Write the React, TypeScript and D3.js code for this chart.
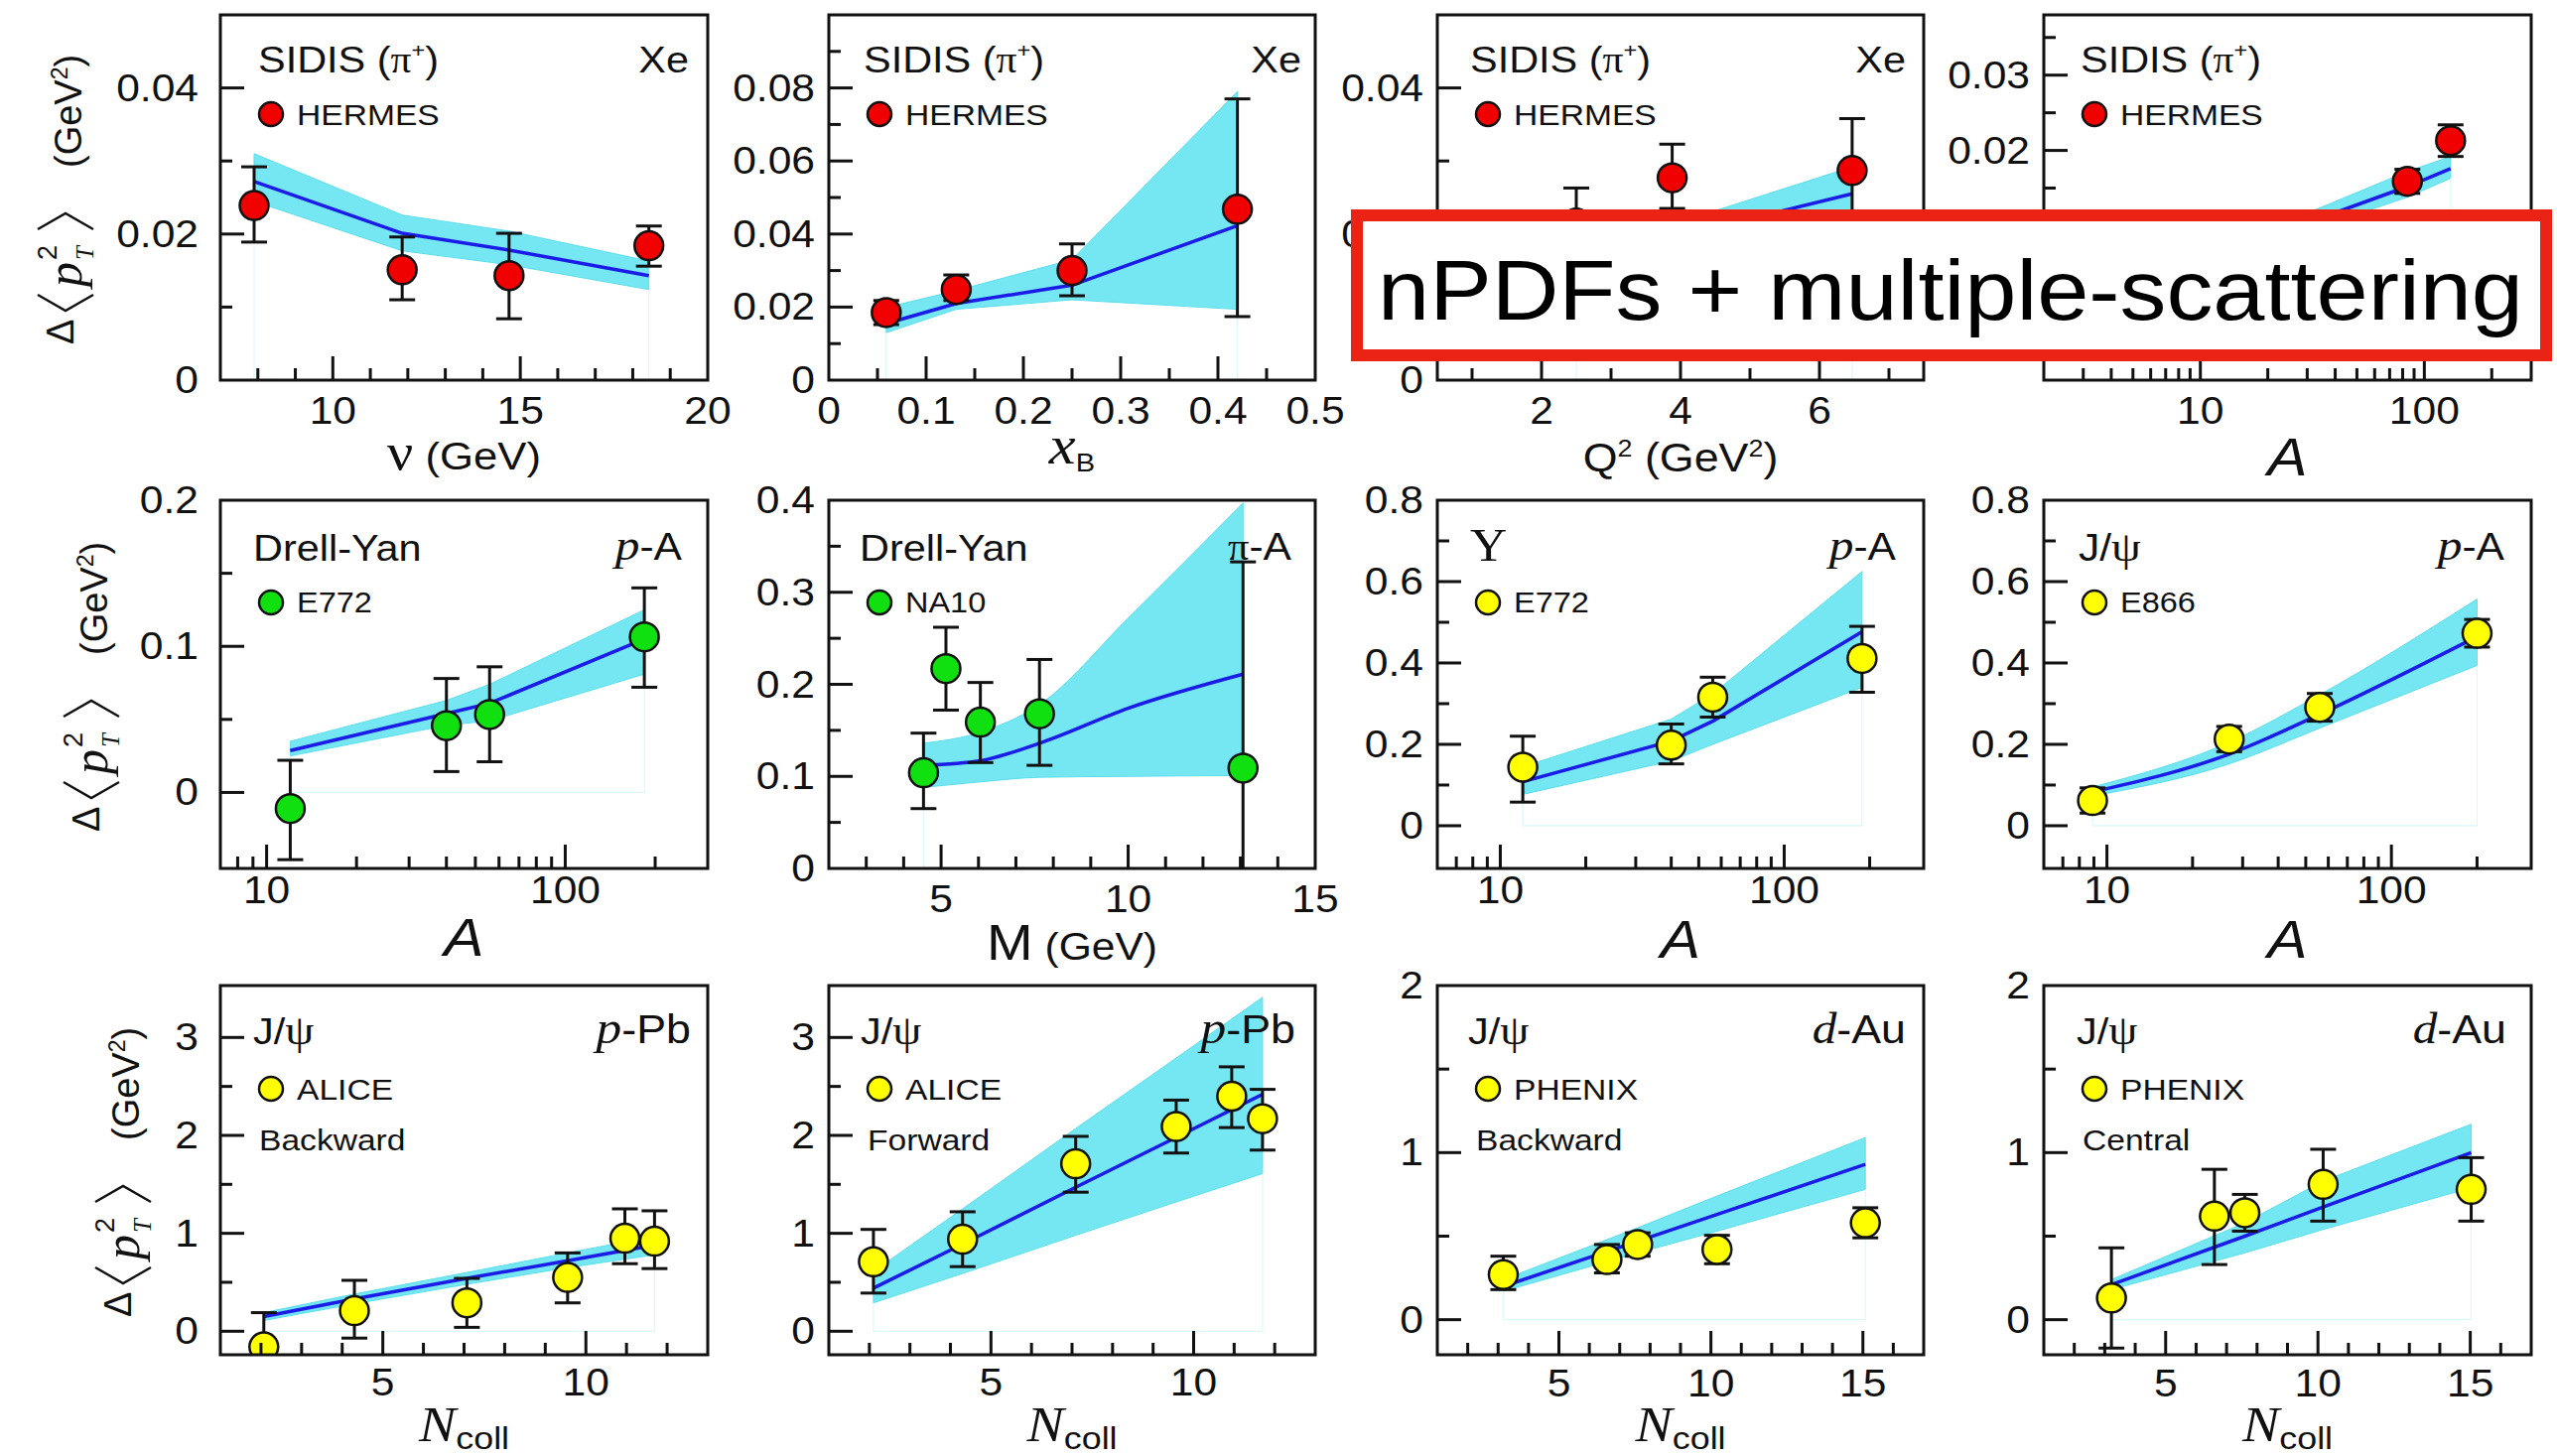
import React from "react";
import * as d3 from "d3";

type Pt = { x: number; y: number; lo: number; hi: number };

// ---------- SIDIS pi+ on Xe (HERMES) ----------
const sidisNuData: Pt[] = [
  { x: 7.9, y: 0.0239, lo: 0.0189, hi: 0.0292 },
  { x: 11.85, y: 0.0151, lo: 0.011, hi: 0.0196 },
  { x: 14.7, y: 0.0143, lo: 0.0084, hi: 0.0201 },
  { x: 18.43, y: 0.0184, lo: 0.0156, hi: 0.0211 },
];
const sidisNuTheory: Pt[] = [
  { x: 7.9, y: 0.0272, lo: 0.0245, hi: 0.031 },
  { x: 11.85, y: 0.0201, lo: 0.0177, hi: 0.0226 },
  { x: 14.7, y: 0.0178, lo: 0.0158, hi: 0.0204 },
  { x: 18.43, y: 0.0143, lo: 0.0124, hi: 0.0163 },
];

const sidisXbData: Pt[] = [
  { x: 0.059, y: 0.0185, lo: 0.0152, hi: 0.0218 },
  { x: 0.131, y: 0.0248, lo: 0.0218, hi: 0.0288 },
  { x: 0.25, y: 0.03, lo: 0.0231, hi: 0.0373 },
  { x: 0.42, y: 0.0468, lo: 0.0174, hi: 0.077 },
];
const sidisXbTheory: Pt[] = [
  { x: 0.059, y: 0.0155, lo: 0.013, hi: 0.0199 },
  { x: 0.131, y: 0.021, lo: 0.0194, hi: 0.0245 },
  { x: 0.25, y: 0.026, lo: 0.022, hi: 0.033 },
  { x: 0.42, y: 0.0423, lo: 0.0194, hi: 0.079 },
];

const sidisQ2Data: Pt[] = [
  { x: 2.5, y: 0.0215, lo: 0.0165, hi: 0.0263 },
  { x: 3.88, y: 0.0277, lo: 0.0235, hi: 0.0323 },
  { x: 6.47, y: 0.0287, lo: 0.021, hi: 0.0358 },
];
const sidisQ2Theory: Pt[] = [
  { x: 2.5, y: 0.0175, lo: 0.0158, hi: 0.0192 },
  { x: 3.88, y: 0.0195, lo: 0.0175, hi: 0.0213 },
  { x: 6.47, y: 0.0255, lo: 0.0215, hi: 0.0292 },
];

const sidisAData: Pt[] = [
  { x: 4, y: 0.004, lo: 0.0025, hi: 0.0055 },
  { x: 20, y: 0.0075, lo: 0.006, hi: 0.009 },
  { x: 84, y: 0.0159, lo: 0.0143, hi: 0.0175 },
  { x: 131, y: 0.0213, lo: 0.0192, hi: 0.0234 },
];
const sidisATheory: Pt[] = [
  { x: 4, y: 0.0035, lo: 0.003, hi: 0.004 },
  { x: 20, y: 0.0085, lo: 0.0075, hi: 0.0095 },
  { x: 84, y: 0.0152, lo: 0.0138, hi: 0.0172 },
  { x: 131, y: 0.0176, lo: 0.0163, hi: 0.0192 },
];

// ---------- Drell-Yan ----------
const e772DyData: Pt[] = [
  { x: 12, y: -0.011, lo: -0.046, hi: 0.022 },
  { x: 40, y: 0.0457, lo: 0.0143, hi: 0.078 },
  { x: 55.8, y: 0.0533, lo: 0.021, hi: 0.086 },
  { x: 184, y: 0.1065, lo: 0.072, hi: 0.14 },
];
const e772DyTheory: Pt[] = [
  { x: 12, y: 0.0287, lo: 0.025, hi: 0.035 },
  { x: 40, y: 0.054, lo: 0.046, hi: 0.063 },
  { x: 55.8, y: 0.061, lo: 0.049, hi: 0.074 },
  { x: 184, y: 0.105, lo: 0.081, hi: 0.125 },
];

const na10Data: Pt[] = [
  { x: 4.53, y: 0.104, lo: 0.065, hi: 0.147 },
  { x: 5.13, y: 0.217, lo: 0.172, hi: 0.262 },
  { x: 6.05, y: 0.159, lo: 0.115, hi: 0.202 },
  { x: 7.63, y: 0.168, lo: 0.112, hi: 0.227 },
  { x: 13.07, y: 0.109, lo: -0.1, hi: 0.333 },
];
const na10Theory: Pt[] = [
  { x: 4.53, y: 0.112, lo: 0.088, hi: 0.136 },
  { x: 6.05, y: 0.117, lo: 0.094, hi: 0.148 },
  { x: 7.63, y: 0.136, lo: 0.099, hi: 0.178 },
  { x: 10, y: 0.174, lo: 0.1, hi: 0.272 },
  { x: 13.07, y: 0.211, lo: 0.101, hi: 0.397 },
];

// ---------- Quarkonia in p-A ----------
const e772UpsData: Pt[] = [
  { x: 12, y: 0.144, lo: 0.058, hi: 0.22 },
  { x: 40, y: 0.198, lo: 0.152, hi: 0.25 },
  { x: 56, y: 0.316, lo: 0.267, hi: 0.365 },
  { x: 188, y: 0.411, lo: 0.328, hi: 0.49 },
];
const e772UpsTheory: Pt[] = [
  { x: 12, y: 0.108, lo: 0.077, hi: 0.145 },
  { x: 40, y: 0.208, lo: 0.159, hi: 0.262 },
  { x: 56, y: 0.257, lo: 0.2, hi: 0.324 },
  { x: 188, y: 0.477, lo: 0.34, hi: 0.625 },
];

const e866Data: Pt[] = [
  { x: 8.9, y: 0.062, lo: 0.031, hi: 0.093 },
  { x: 26.9, y: 0.213, lo: 0.182, hi: 0.244 },
  { x: 56, y: 0.291, lo: 0.257, hi: 0.325 },
  { x: 200, y: 0.473, lo: 0.439, hi: 0.507 },
];
const e866Theory: Pt[] = [
  { x: 8.9, y: 0.083, lo: 0.073, hi: 0.095 },
  { x: 26.9, y: 0.176, lo: 0.152, hi: 0.205 },
  { x: 56, y: 0.274, lo: 0.24, hi: 0.322 },
  { x: 200, y: 0.465, lo: 0.394, hi: 0.557 },
];

// ---------- J/psi versus N_coll ----------
const aliceBwdData: Pt[] = [
  { x: 2.07, y: -0.16, lo: -0.5, hi: 0.19 },
  { x: 4.3, y: 0.21, lo: -0.07, hi: 0.52 },
  { x: 7.07, y: 0.29, lo: 0.04, hi: 0.54 },
  { x: 9.55, y: 0.55, lo: 0.29, hi: 0.8 },
  { x: 10.96, y: 0.95, lo: 0.69, hi: 1.25 },
  { x: 11.69, y: 0.92, lo: 0.64, hi: 1.23 },
];
const aliceBwdTheory: Pt[] = [
  { x: 2.07, y: 0.15, lo: 0.11, hi: 0.19 },
  { x: 4.3, y: 0.33, lo: 0.28, hi: 0.38 },
  { x: 7.07, y: 0.54, lo: 0.48, hi: 0.6 },
  { x: 9.55, y: 0.72, lo: 0.65, hi: 0.8 },
  { x: 11.69, y: 0.88, lo: 0.78, hi: 0.97 },
];

const aliceFwdData: Pt[] = [
  { x: 2.1, y: 0.71, lo: 0.39, hi: 1.04 },
  { x: 4.3, y: 0.94, lo: 0.66, hi: 1.22 },
  { x: 7.09, y: 1.71, lo: 1.42, hi: 1.99 },
  { x: 9.57, y: 2.09, lo: 1.82, hi: 2.36 },
  { x: 10.94, y: 2.4, lo: 2.08, hi: 2.7 },
  { x: 11.7, y: 2.17, lo: 1.85, hi: 2.47 },
];
const aliceFwdTheory: Pt[] = [
  { x: 2.1, y: 0.44, lo: 0.29, hi: 0.61 },
  { x: 4.3, y: 0.89, lo: 0.59, hi: 1.25 },
  { x: 7.09, y: 1.47, lo: 0.98, hi: 2.07 },
  { x: 9.57, y: 1.98, lo: 1.32, hi: 2.79 },
  { x: 11.7, y: 2.42, lo: 1.61, hi: 3.41 },
];

const phenixBwdData: Pt[] = [
  { x: 3.17, y: 0.27, lo: 0.18, hi: 0.38 },
  { x: 6.58, y: 0.36, lo: 0.28, hi: 0.45 },
  { x: 7.59, y: 0.45, lo: 0.38, hi: 0.52 },
  { x: 10.2, y: 0.42, lo: 0.335, hi: 0.505 },
  { x: 15.08, y: 0.58, lo: 0.49, hi: 0.67 },
];
const phenixBwdTheory: Pt[] = [
  { x: 3.17, y: 0.2, lo: 0.17, hi: 0.24 },
  { x: 7.59, y: 0.47, lo: 0.4, hi: 0.55 },
  { x: 10.2, y: 0.63, lo: 0.53, hi: 0.74 },
  { x: 15.08, y: 0.93, lo: 0.78, hi: 1.09 },
];

const phenixCenData: Pt[] = [
  { x: 3.22, y: 0.13, lo: -0.17, hi: 0.43 },
  { x: 6.6, y: 0.62, lo: 0.33, hi: 0.9 },
  { x: 7.6, y: 0.64, lo: 0.53, hi: 0.75 },
  { x: 10.17, y: 0.81, lo: 0.59, hi: 1.02 },
  { x: 15.03, y: 0.78, lo: 0.59, hi: 0.97 },
];
const phenixCenTheory: Pt[] = [
  { x: 3.22, y: 0.21, lo: 0.18, hi: 0.24 },
  { x: 7.6, y: 0.5, lo: 0.4, hi: 0.58 },
  { x: 10.17, y: 0.675, lo: 0.54, hi: 0.83 },
  { x: 15.03, y: 1.0, lo: 0.79, hi: 1.17 },
];

// ---------- axis ticks ----------
const nuTicks = [8, 9, 10, 11, 12, 13, 14, 15, 16, 17, 18, 19];
const nuLabels = [10, 15, 20];
const xbTicks = [0.05, 0.1, 0.15, 0.2, 0.25, 0.3, 0.35, 0.4, 0.45];
const xbLabels = [0, 0.1, 0.2, 0.3, 0.4, 0.5];
const q2Ticks = [1, 2, 3, 4, 5, 6, 7];
const q2Labels = [2, 4, 6];
const logA2Ticks = [3, 4, 5, 6, 7, 8, 9, 10, 20, 30, 40, 50, 60, 70, 80, 90, 100, 200];
const logA7Ticks = [8, 9, 10, 20, 30, 40, 50, 60, 70, 80, 90, 100, 200];
const logA6Ticks = [7, 8, 9, 10, 20, 30, 40, 50, 60, 70, 80, 90, 100, 200];
const logALabels = [10, 100];
const massTicks = [3, 4, 5, 6, 7, 8, 9, 10, 11, 12, 13, 14];
const massLabels = [5, 10, 15];
const ncoll13Ticks = [2, 3, 4, 5, 6, 7, 8, 9, 10, 11, 12];
const ncoll13Labels = [5, 10];
const ncoll17Ticks = [2, 3, 4, 5, 6, 7, 8, 9, 10, 11, 12, 13, 14, 15, 16];
const ncoll17Labels = [5, 10, 15];

const y005Ticks = [0.01, 0.02, 0.03, 0.04];
const y005Labels = [0, 0.02, 0.04];
const y01Ticks = [0.01, 0.02, 0.03, 0.04, 0.05, 0.06, 0.07, 0.08, 0.09];
const y01Labels = [0, 0.02, 0.04, 0.06, 0.08];
const ySidisATicks = [-0.005, 0, 0.005, 0.01, 0.015, 0.02, 0.025, 0.03, 0.035];
const ySidisAMajor = [0, 0.01, 0.02, 0.03];
const ySidisALabels = [0.02, 0.03];
const yDyTicks = [0, 0.05, 0.1, 0.15];
const yDyLabels = [0, 0.1, 0.2];
const yNa10Ticks = [0.05, 0.1, 0.15, 0.2, 0.25, 0.3, 0.35];
const yNa10Labels = [0, 0.1, 0.2, 0.3, 0.4];
const yQuarkTicks = [0, 0.1, 0.2, 0.3, 0.4, 0.5, 0.6, 0.7];
const yQuarkLabels = [0, 0.2, 0.4, 0.6, 0.8];
const yAliceTicks = [0, 0.5, 1, 1.5, 2, 2.5, 3];
const yAliceLabels = [0, 1, 2, 3];
const yPhenixTicks = [0, 0.5, 1, 1.5];
const yPhenixLabels = [0, 1, 2];

// ---------- layout & style ----------
const W = 2576;
const H = 1467;
const SX = 1.12;
const SANS = "'Liberation Sans', Arial, Helvetica, sans-serif";
const SERIF = "'Liberation Serif', 'Times New Roman', serif";
const INK = "#111";
const BAND = "#74e7f2";
const BAND_EDGE = "#5cdfec";
const CURVE = "#1c1ce8";
const RED = "#f00000";
const GREEN = "#10e010";
const YELLOW = "#ffff00";

const COLS = [
  { l: 222, r: 713 },
  { l: 835, r: 1325 },
  { l: 1448, r: 1938 },
  { l: 2059, r: 2550 },
];
const ROWS = [
  { t: 15, b: 383, titleY: 58, sysY: 58, legY: 100, legTextY: 111 },
  { t: 504, b: 875, titleY: 61, sysY: 60, legY: 103, legTextY: 113 },
  { t: 993, b: 1365, titleY: 59, sysY: 58, legY: 104, legTextY: 115 },
];

type TxtProps = {
  x: number;
  y: number;
  size: number;
  anchor?: "start" | "middle" | "end";
  family?: string;
  italic?: boolean;
  children: React.ReactNode;
};
const Txt = ({ x, y, size, anchor = "start", family = SANS, italic = false, children }: TxtProps) => (
  <text
    transform={`translate(${x},${y}) scale(${SX},1)`}
    fontSize={size}
    fontFamily={family}
    fontStyle={italic ? "italic" : "normal"}
    textAnchor={anchor}
    fill={INK}
  >
    {children}
  </text>
);

interface PanelSpec {
  id: string;
  col: number;
  row: number;
  log?: boolean;
  smooth?: boolean;
  xDomain: [number, number];
  yDomain: [number, number];
  xTicks: number[];
  xLabels: number[];
  yTicks: number[];
  yLabels: number[];
  yMajor?: number[];
  xLabelDy: number;
  data: Pt[];
  theory: Pt[];
  color: string;
  titleX: number;
  process: React.ReactNode;
  processSize: number;
  sysRight?: number;
  system?: React.ReactNode;
  sysSize?: number;
  legend: string;
  legendSize: number;
  note?: string;
  xTitle: React.ReactNode;
  xTitleDy: number;
  xTitleSize: number;
}

const sidisTitle = (
  <>
    SIDIS (<tspan fontFamily={SERIF}>π</tspan>
    <tspan fontSize={21} dy={-15}>+</tspan>
    <tspan dy={15}>)</tspan>
  </>
);
const pA = (
  <>
    <tspan fontFamily={SERIF} fontStyle="italic" fontSize={44}>p</tspan>-A
  </>
);
const jpsi = (
  <>
    J/<tspan fontFamily={SERIF} fontSize="1.12em">ψ</tspan>
  </>
);
const pPb = (
  <>
    <tspan fontFamily={SERIF} fontStyle="italic" fontSize={46}>p</tspan>-Pb
  </>
);
const dAu = (
  <>
    <tspan fontFamily={SERIF} fontStyle="italic" fontSize={44}>d</tspan>-Au
  </>
);
const italicA = <tspan fontStyle="italic">A</tspan>;
const nColl = (
  <>
    <tspan fontFamily={SERIF} fontStyle="italic" fontSize={50}>N</tspan>
    <tspan fontSize={32} dy={8}>coll</tspan>
  </>
);

const panels: PanelSpec[] = [
  {
    id: "nu", col: 0, row: 0, xDomain: [7, 20], yDomain: [0, 0.05],
    xTicks: nuTicks, xLabels: nuLabels, yTicks: y005Ticks, yLabels: y005Labels, xLabelDy: 44,
    data: sidisNuData, theory: sidisNuTheory, color: RED,
    titleX: 38, process: sidisTitle, processSize: 37, sysRight: 19, system: "Xe", sysSize: 37,
    legend: "HERMES", legendSize: 30,
    xTitle: (<><tspan fontFamily={SERIF} fontSize={52}>ν</tspan> (GeV)</>), xTitleDy: 90, xTitleSize: 39,
  },
  {
    id: "xb", col: 1, row: 0, xDomain: [0, 0.5], yDomain: [0, 0.1],
    xTicks: xbTicks, xLabels: xbLabels, yTicks: y01Ticks, yLabels: y01Labels, xLabelDy: 44,
    data: sidisXbData, theory: sidisXbTheory, color: RED,
    titleX: 35, process: sidisTitle, processSize: 37, sysRight: 14, system: "Xe", sysSize: 37,
    legend: "HERMES", legendSize: 30,
    xTitle: (<><tspan fontFamily={SERIF} fontStyle="italic" fontSize={54}>x</tspan><tspan fontSize={26} dy={8}>B</tspan></>),
    xTitleDy: 84, xTitleSize: 32,
  },
  {
    id: "q2", col: 2, row: 0, xDomain: [0.5, 7.5], yDomain: [0, 0.05],
    xTicks: q2Ticks, xLabels: q2Labels, yTicks: y005Ticks, yLabels: y005Labels, xLabelDy: 44,
    data: sidisQ2Data, theory: sidisQ2Theory, color: RED,
    titleX: 33, process: sidisTitle, processSize: 37, sysRight: 18, system: "Xe", sysSize: 37,
    legend: "HERMES", legendSize: 30,
    xTitle: (<>Q<tspan fontSize={24} dy={-15}>2</tspan><tspan dy={15}> (GeV</tspan><tspan fontSize={24} dy={-15}>2</tspan><tspan dy={15}>)</tspan></>),
    xTitleDy: 92, xTitleSize: 40,
  },
  {
    id: "sidisA", col: 3, row: 0, log: true, xDomain: [2, 300], yDomain: [-0.0105, 0.038],
    xTicks: logA2Ticks, xLabels: logALabels, yTicks: ySidisATicks, yLabels: ySidisALabels, yMajor: ySidisAMajor,
    xLabelDy: 44,
    data: sidisAData, theory: sidisATheory, color: RED,
    titleX: 37, process: sidisTitle, processSize: 37,
    legend: "HERMES", legendSize: 30,
    xTitle: italicA, xTitleDy: 96, xTitleSize: 54,
  },
  {
    id: "dyA", col: 0, row: 1, log: true, xDomain: [7, 300], yDomain: [-0.052, 0.2],
    xTicks: logA7Ticks, xLabels: logALabels, yTicks: yDyTicks, yLabels: yDyLabels, xLabelDy: 35,
    data: e772DyData, theory: e772DyTheory, color: GREEN,
    titleX: 33, process: "Drell-Yan", processSize: 37, sysRight: 26, system: pA, sysSize: 38,
    legend: "E772", legendSize: 29,
    xTitle: italicA, xTitleDy: 88, xTitleSize: 54,
  },
  {
    id: "na10", col: 1, row: 1, smooth: true, xDomain: [2, 15], yDomain: [0, 0.4],
    xTicks: massTicks, xLabels: massLabels, yTicks: yNa10Ticks, yLabels: yNa10Labels, xLabelDy: 44,
    data: na10Data, theory: na10Theory, color: GREEN,
    titleX: 31, process: "Drell-Yan", processSize: 37, sysRight: 24,
    system: (<><tspan fontFamily={SERIF}>π</tspan>-A</>), sysSize: 38,
    legend: "NA10", legendSize: 29,
    xTitle: (<><tspan fontSize={50}>M</tspan> (GeV)</>), xTitleDy: 92, xTitleSize: 38,
  },
  {
    id: "ups", col: 2, row: 1, log: true, xDomain: [6, 310], yDomain: [-0.105, 0.8],
    xTicks: logA6Ticks, xLabels: logALabels, yTicks: yQuarkTicks, yLabels: yQuarkLabels, xLabelDy: 35,
    data: e772UpsData, theory: e772UpsTheory, color: YELLOW,
    titleX: 33, process: (<tspan fontFamily={SERIF} fontSize={46}>Υ</tspan>), processSize: 37,
    sysRight: 28, system: pA, sysSize: 38,
    legend: "E772", legendSize: 29,
    xTitle: italicA, xTitleDy: 90, xTitleSize: 54,
  },
  {
    id: "e866", col: 3, row: 1, log: true, smooth: true, xDomain: [6, 310], yDomain: [-0.105, 0.8],
    xTicks: logA6Ticks, xLabels: logALabels, yTicks: yQuarkTicks, yLabels: yQuarkLabels, xLabelDy: 35,
    data: e866Data, theory: e866Theory, color: YELLOW,
    titleX: 35, process: jpsi, processSize: 38, sysRight: 27, system: pA, sysSize: 38,
    legend: "E866", legendSize: 29,
    xTitle: italicA, xTitleDy: 90, xTitleSize: 54,
  },
  {
    id: "aliceB", col: 0, row: 2, xDomain: [1, 13], yDomain: [-0.24, 3.53],
    xTicks: ncoll13Ticks, xLabels: ncoll13Labels, yTicks: yAliceTicks, yLabels: yAliceLabels, xLabelDy: 41,
    data: aliceBwdData, theory: aliceBwdTheory, color: YELLOW,
    titleX: 33, process: jpsi, processSize: 37, sysRight: 17, system: pPb, sysSize: 40,
    legend: "ALICE", legendSize: 30, note: "Backward",
    xTitle: nColl, xTitleDy: 87, xTitleSize: 32,
  },
  {
    id: "aliceF", col: 1, row: 2, xDomain: [1, 13], yDomain: [-0.24, 3.53],
    xTicks: ncoll13Ticks, xLabels: ncoll13Labels, yTicks: yAliceTicks, yLabels: yAliceLabels, xLabelDy: 41,
    data: aliceFwdData, theory: aliceFwdTheory, color: YELLOW,
    titleX: 32, process: jpsi, processSize: 37, sysRight: 20, system: pPb, sysSize: 40,
    legend: "ALICE", legendSize: 30, note: "Forward",
    xTitle: nColl, xTitleDy: 87, xTitleSize: 32,
  },
  {
    id: "phenixB", col: 2, row: 2, xDomain: [1, 17], yDomain: [-0.21, 2],
    xTicks: ncoll17Ticks, xLabels: ncoll17Labels, yTicks: yPhenixTicks, yLabels: yPhenixLabels, xLabelDy: 42,
    data: phenixBwdData, theory: phenixBwdTheory, color: YELLOW,
    titleX: 31, process: jpsi, processSize: 37, sysRight: 18, system: dAu, sysSize: 40,
    legend: "PHENIX", legendSize: 30, note: "Backward",
    xTitle: nColl, xTitleDy: 87, xTitleSize: 32,
  },
  {
    id: "phenixC", col: 3, row: 2, xDomain: [1, 17], yDomain: [-0.21, 2],
    xTicks: ncoll17Ticks, xLabels: ncoll17Labels, yTicks: yPhenixTicks, yLabels: yPhenixLabels, xLabelDy: 42,
    data: phenixCenData, theory: phenixCenTheory, color: YELLOW,
    titleX: 33, process: jpsi, processSize: 37, sysRight: 25, system: dAu, sysSize: 40,
    legend: "PHENIX", legendSize: 30, note: "Central",
    xTitle: nColl, xTitleDy: 87, xTitleSize: 32,
  },
];

const TICK_MAJOR = 24;
const TICK_MINOR = 12;
const CAP = 13;
const MARKER_R = 14.5;

function Panel({ s }: { s: PanelSpec }) {
  const { l, r } = COLS[s.col];
  const row = ROWS[s.row];
  const { t, b } = row;
  const x = s.log
    ? d3.scaleLog().domain(s.xDomain).range([l, r])
    : d3.scaleLinear().domain(s.xDomain).range([l, r]);
  const y = d3.scaleLinear().domain(s.yDomain).range([b, t]);
  const shape = s.smooth ? d3.curveMonotoneX : d3.curveLinear;

  const band = d3
    .area<Pt>()
    .curve(shape)
    .x((d) => x(d.x))
    .y0((d) => y(d.lo))
    .y1((d) => y(d.hi))(s.theory);
  const curve = d3
    .line<Pt>()
    .curve(shape)
    .x((d) => x(d.x))
    .y((d) => y(d.y))(s.theory);
  const first = s.theory[0];
  const last = s.theory[s.theory.length - 1];
  const base = y(0);
  const ghost = `M${x(first.x)},${y(first.lo)}V${base}H${x(last.x)}V${y(last.lo)}`;

  const clipId = `clip-${s.id}`;
  const xMajorSet = new Set(s.xLabels);
  const yMajorSet = new Set(s.yMajor ?? s.yLabels);
  const yGap = s.col === 0 ? 22 : 14;
  const fmt = (v: number) => (v === 0 ? "0" : String(v));

  return (
    <g>
      <defs>
        <clipPath id={clipId}>
          <rect x={l} y={t} width={r - l} height={b - t} />
        </clipPath>
      </defs>
      <g clipPath={`url(#${clipId})`}>
        <path d={band ?? ""} fill={BAND} stroke={BAND_EDGE} strokeWidth={1} />
        <path d={ghost} fill="none" stroke="#dcf8fb" strokeWidth={1.2} />
        <path d={curve ?? ""} fill="none" stroke={CURVE} strokeWidth={3.5} />
        {s.data.map((d, i) => {
          const cx = x(d.x);
          return (
            <g key={i} stroke={INK} strokeWidth={3}>
              <line x1={cx} x2={cx} y1={y(d.lo)} y2={y(d.hi)} />
              <line x1={cx - CAP} x2={cx + CAP} y1={y(d.lo)} y2={y(d.lo)} />
              <line x1={cx - CAP} x2={cx + CAP} y1={y(d.hi)} y2={y(d.hi)} />
            </g>
          );
        })}
        {s.data.map((d, i) => (
          <circle key={i} cx={x(d.x)} cy={y(d.y)} r={MARKER_R} fill={s.color} stroke={INK} strokeWidth={2.5} />
        ))}
      </g>

      {/* ticks */}
      {s.xTicks.map((v) => {
        const px = x(v);
        if (px < l + 2 || px > r - 2) return null;
        const len = xMajorSet.has(v) ? TICK_MAJOR : TICK_MINOR;
        return <line key={`xt${v}`} x1={px} x2={px} y1={b} y2={b - len} stroke={INK} strokeWidth={3} />;
      })}
      {s.yTicks.map((v) => {
        const py = y(v);
        if (py < t + 2 || py > b - 2) return null;
        const len = yMajorSet.has(v) ? TICK_MAJOR : TICK_MINOR;
        return <line key={`yt${v}`} x1={l} x2={l + len} y1={py} y2={py} stroke={INK} strokeWidth={3} />;
      })}
      <rect x={l} y={t} width={r - l} height={b - t} fill="none" stroke={INK} strokeWidth={3} />

      {/* tick labels */}
      {s.xLabels.map((v) => (
        <Txt key={`xl${v}`} x={x(v)} y={b + s.xLabelDy} size={38} anchor="middle">
          {fmt(v)}
        </Txt>
      ))}
      {s.yLabels.map((v) => (
        <Txt key={`yl${v}`} x={l - yGap} y={y(v) + 13} size={38} anchor="end">
          {fmt(v)}
        </Txt>
      ))}

      {/* panel annotations */}
      <Txt x={l + s.titleX} y={t + row.titleY} size={s.processSize}>
        {s.process}
      </Txt>
      {s.system && (
        <Txt x={r - (s.sysRight ?? 20)} y={t + row.sysY} size={s.sysSize ?? 35} anchor="end">
          {s.system}
        </Txt>
      )}
      <circle cx={l + 51} cy={t + row.legY} r={12} fill={s.color} stroke={INK} strokeWidth={2.5} />
      <Txt x={l + 77} y={t + row.legTextY} size={s.legendSize}>
        {s.legend}
      </Txt>
      {s.note && (
        <Txt x={l + 39} y={t + 166} size={30}>
          {s.note}
        </Txt>
      )}

      <Txt x={(l + r) / 2} y={b + s.xTitleDy} size={s.xTitleSize} anchor="middle">
        {s.xTitle}
      </Txt>
    </g>
  );
}

// rotated y title: Δ<p_T^2> (GeV^2)
function YTitle({ cx, bottom }: { cx: number; bottom: number }) {
  return (
    <g transform={`translate(${cx},${bottom}) rotate(-90)`} fill={INK}>
      <text x={0} y={-8} fontSize={38} fontFamily={SANS}>Δ</text>
      <polyline points="50,-44 34,-16 50,12" fill="none" stroke={INK} strokeWidth={2.4} />
      <text x={58} y={0} fontSize={50} fontFamily={SERIF} fontStyle="italic">p</text>
      <text x={85} y={12} fontSize={25} fontFamily={SERIF} fontStyle="italic">T</text>
      <text x={85} y={-25} fontSize={27} fontFamily={SANS}>2</text>
      <polyline points="116,-44 132,-16 116,12" fill="none" stroke={INK} strokeWidth={2.4} />
      <text x={178} y={0} fontSize={38} fontFamily={SANS}>
        (GeV<tspan dy={-14} fontSize={23}>2</tspan>
        <tspan dy={14}>)</tspan>
      </text>
    </g>
  );
}

const yTitleRows = [
  { cx: 82, bottom: 347 },
  { cx: 108, bottom: 838 },
  { cx: 140, bottom: 1327 },
];

export default function App() {
  return (
    <svg
      width={W}
      height={H}
      viewBox={`0 0 ${W} ${H}`}
      style={{ position: "absolute", left: 0, top: 0, background: "#fff" }}
    >
      <rect width={W} height={H} fill="#fff" />
      {panels.map((s) => (
        <Panel key={s.id} s={s} />
      ))}
      {yTitleRows.map((p, i) => (
        <YTitle key={i} cx={p.cx} bottom={p.bottom} />
      ))}
      <rect x={1367} y={217} width={1198} height={141} fill="#fff" stroke="#ea2314" strokeWidth={12} />
      <text
        x={1388}
        y={322}
        fontSize={86}
        fontFamily={SANS}
        fill="#000"
        textLength={1154}
        lengthAdjust="spacingAndGlyphs"
      >
        nPDFs + multiple-scattering
      </text>
    </svg>
  );
}
